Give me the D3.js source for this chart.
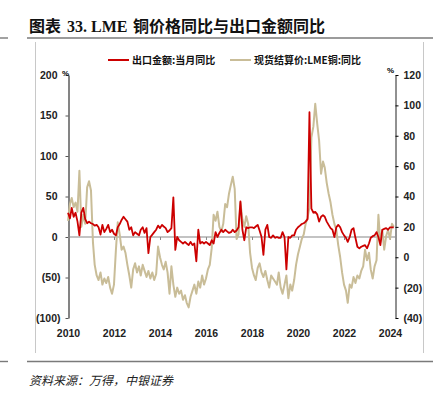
<!DOCTYPE html>
<html>
<head>
<meta charset="utf-8">
<title>LME铜价格同比与出口金额同比</title>
<script src="https://d3js.org/d3.v7.min.js"></script>
<style>
	body { margin: 0; background: #fff; }
	svg { display: block; }
	.tick text {
		font-family: "Liberation Sans Narrow", "Arial Narrow", "Liberation Sans", sans-serif;
		font-size: 10.5px;
		font-weight: bold;
		fill: #222;
	}
	.cjk { font-family: "Noto Sans CJK SC", sans-serif; }
</style>
</head>
<body>
<svg width="440" height="398"></svg>
<script>
// monthly data, Jan 2010 onwards
const startYear = 2010;

// 出口金额:当月同比 (%), left axis
const exportYoY = [
	30, 23, 36, 25, 30, 19, 2, 30, 36, 22,
	17, 19, 17, 16, 14, 15, 12, 3, 15, 6,
	10, 15, 6, 9, 4, 2, 12, 16, 21, 25,
	22, 19, 9, 12, 2, 6, 4, 2, 9, 12,
	5, 11, -20, 0, 3, 6, 9, 14, 11, 15,
	13, 11, 6, 8, 11, 49, -16, 0, -4, -6,
	-8, -6, -8, -10, -6, -10, -8, -30, 9, -8,
	-6, -8, -6, -8, -10, -4, -8, 6, 0, 5,
	9, 6, 9, 7, 5, 6, 9, 6, 8, 12,
	44, 9, -4, 12, 11, 12, 12, 11, 13, 15,
	8, 0, -22, 9, 15, 0, -1, 2, -1, 0,
	-1, -1, 6, 0, -40, 0, -1, 2, 2, 9,
	12, 14, 16, 17, 19, 22, 154, 35, 30, 31,
	28, 19, 25, 27, 25, 19, 15, 11, 9, 0,
	12, 15, 12, 6, 2, -1, -6, 0, 9, 11,
	-1, -12, -14, -12, -11, -10, -14, -8, -1, 1,
	2, 6, 0, -10, 9, 10, 11, 9, 12, 12,
	12
];

// 现货结算价:LME铜:同比 (%), right axis
const lmeCopperYoY = [
	24, 35, 39, 33, 36, 30, 57, 20, 28, 22,
	46, 50, 44, 10, -5, -12, -15, -10, -18, -14,
	-17, -13, -20, -24, -18, 5, 23, 15, 5, 7,
	3, -5, -12, -20, -8, -4, -10, -6, -12, -5,
	-9, -13, -9, -14, -10, -15, -11, 7, 0, -5,
	-8, -3, -10, -24, -6, -18, -26, -20, -24, -22,
	-28, -25, -30, -33, -26, -22, -18, -24, -16, -20,
	-12, -18, -14, -8, -5, 6, 28, 24, 30, 20,
	17, 22, 35, 33, 42, 48, 53, 45, 12, 15,
	36, 25, 20, 27, 22, 3, -7, -12, -15, -7,
	-4, -10, -13, -9, -15, -20, -12, -14, -16, -18,
	-10, -20, -24, -18, -12, -27, -18, -22, -15, -5,
	2, 7, 12, 15, 22, 26, 33, 79, 86, 101,
	88, 77, 55, 63, 59, 49, 42, 36, 28, 22,
	18, 8, 0, -10, -18, -22, -30, -18, -20, -13,
	-17, -12, -14, -9, -6, 5, -2, 3, -8, -14,
	-6, -2, 28, 10, 18, 5, 14, 18, 12, 22,
	20
];

const leftTicks = [-100, -50, 0, 50, 100, 150, 200];
const rightTicks = [-40, -20, 0, 20, 40, 60, 80, 100, 120];
const yearTicks = [2010, 2012, 2014, 2016, 2018, 2020, 2022, 2024];

const months = exportYoY.map((d, i) => new Date(startYear, i, 1));

const svg = d3.select("svg");
const redColor = "#cc0000";
const tanColor = "#c9bd98";

const x = d3.scaleTime()
	.domain([new Date(2010, 0, 1), new Date(2024, 0, 1)])
	.range([68, 390]);
const yL = d3.scaleLinear().domain([-100, 200]).range([318, 75]);
const yR = d3.scaleLinear().domain([-40, 120]).range([318, 75]);

const fmt = d => d < 0 ? "(" + Math.abs(d) + ")" : String(d);

// title and frame
const title = svg.append("text")
	.attr("y", 32)
	.attr("font-weight", "bold")
	.attr("font-size", 16)
	.attr("fill", "#111");
title.append("tspan").attr("x", 29).attr("class", "cjk").text("图表");
title.append("tspan").attr("x", 67).attr("font-family", "Liberation Serif, serif").text("33. LME");
title.append("tspan").attr("x", 133).attr("class", "cjk").text("铜价格同比与出口金额同比");

[38, 361.5].forEach(yy => {
	svg.append("line").attr("x1", 27).attr("x2", 433).attr("y1", yy).attr("y2", yy)
		.attr("stroke", "#7a7a7a").attr("stroke-width", 1.4);
	svg.append("line").attr("x1", 0).attr("x2", 8).attr("y1", yy).attr("y2", yy)
		.attr("stroke", "#7a7a7a").attr("stroke-width", 1.4);
});
[35.5, 423.5].forEach(xx => {
	svg.append("line").attr("x1", xx).attr("x2", xx).attr("y1", 42).attr("y2", 353)
		.attr("stroke", "#c8c8c8").attr("stroke-width", 1);
});

// axes
const leftAxis = svg.append("g")
	.attr("transform", "translate(68.5,0)")
	.call(d3.axisLeft(yL).tickValues(leftTicks).tickSize(3).tickSizeOuter(0).tickPadding(5).tickFormat(fmt));
leftAxis.select(".domain").attr("stroke", "#777").attr("stroke-width", 1.8);
leftAxis.selectAll(".tick line").attr("stroke", "#555");
leftAxis.selectAll(".tick text").filter(d => d >= 0).attr("dx", -3);

const rightAxis = svg.append("g")
	.attr("transform", "translate(395.5,0)")
	.call(d3.axisRight(yR).tickValues(rightTicks).tickSize(3).tickSizeOuter(0).tickPadding(5).tickFormat(fmt));
rightAxis.select(".domain").attr("stroke", "#222");

svg.append("line")
	.attr("x1", 68).attr("x2", 395)
	.attr("y1", yL(0)).attr("y2", yL(0))
	.attr("stroke", "#888").attr("stroke-width", 1.2);

const yearDates = yearTicks.map(y => new Date(y, 0, 1));
const xTicks = svg.append("g")
	.attr("transform", "translate(0," + yL(0) + ")")
	.call(d3.axisBottom(x).tickValues(yearDates).tickSize(3).tickFormat(""));
xTicks.select(".domain").remove();
xTicks.selectAll(".tick line").attr("stroke", "#888");

const xLabels = svg.append("g")
	.attr("transform", "translate(0,327)")
	.call(d3.axisBottom(x).tickValues(yearDates).tickSize(0).tickPadding(3).tickFormat(d3.timeFormat("%Y")));
xLabels.select(".domain").remove();

svg.append("text").attr("x", 62).attr("y", 76).attr("font-size", 8).attr("font-weight", "bold")
	.attr("font-family", "Liberation Sans Narrow, sans-serif").text("%");
svg.append("text").attr("x", 387).attr("y", 73).attr("font-size", 8).attr("font-weight", "bold")
	.attr("font-family", "Liberation Sans Narrow, sans-serif").text("%");

// series
svg.append("path")
	.datum(lmeCopperYoY)
	.attr("fill", "none")
	.attr("stroke", tanColor)
	.attr("stroke-width", 2)
	.attr("stroke-linejoin", "round")
	.attr("d", d3.line().x((d, i) => x(months[i])).y(d => yR(d)));

svg.append("path")
	.datum(exportYoY)
	.attr("fill", "none")
	.attr("stroke", redColor)
	.attr("stroke-width", 1.8)
	.attr("stroke-linejoin", "round")
	.attr("d", d3.line().x((d, i) => x(months[i])).y(d => yL(d)));

// legend
const legendData = [
	{text: "出口金额:当月同比", color: redColor, x: 108},
	{text: "现货结算价:LME铜:同比", color: tanColor, x: 230}
];
const legend = svg.append("g").attr("id", "legend");
legend.selectAll("line")
	.data(legendData)
	.enter()
	.append("line")
	.attr("x1", d => d.x).attr("x2", d => d.x + 21)
	.attr("y1", 60).attr("y2", 60)
	.attr("stroke", d => d.color).attr("stroke-width", 2);
legend.selectAll("text")
	.data(legendData)
	.enter()
	.append("text")
	.attr("class", "cjk")
	.attr("x", d => d.x + 24)
	.attr("y", 63.5)
	.attr("font-size", 10)
	.attr("font-weight", "bold")
	.attr("fill", "#111")
	.text(d => d.text);

// source
svg.append("text")
	.attr("class", "cjk")
	.attr("x", 29)
	.attr("y", 385)
	.attr("font-size", 12)
	.attr("font-style", "italic")
	.attr("fill", "#222")
	.text("资料来源：万得，中银证券");
</script>
</body>
</html>
